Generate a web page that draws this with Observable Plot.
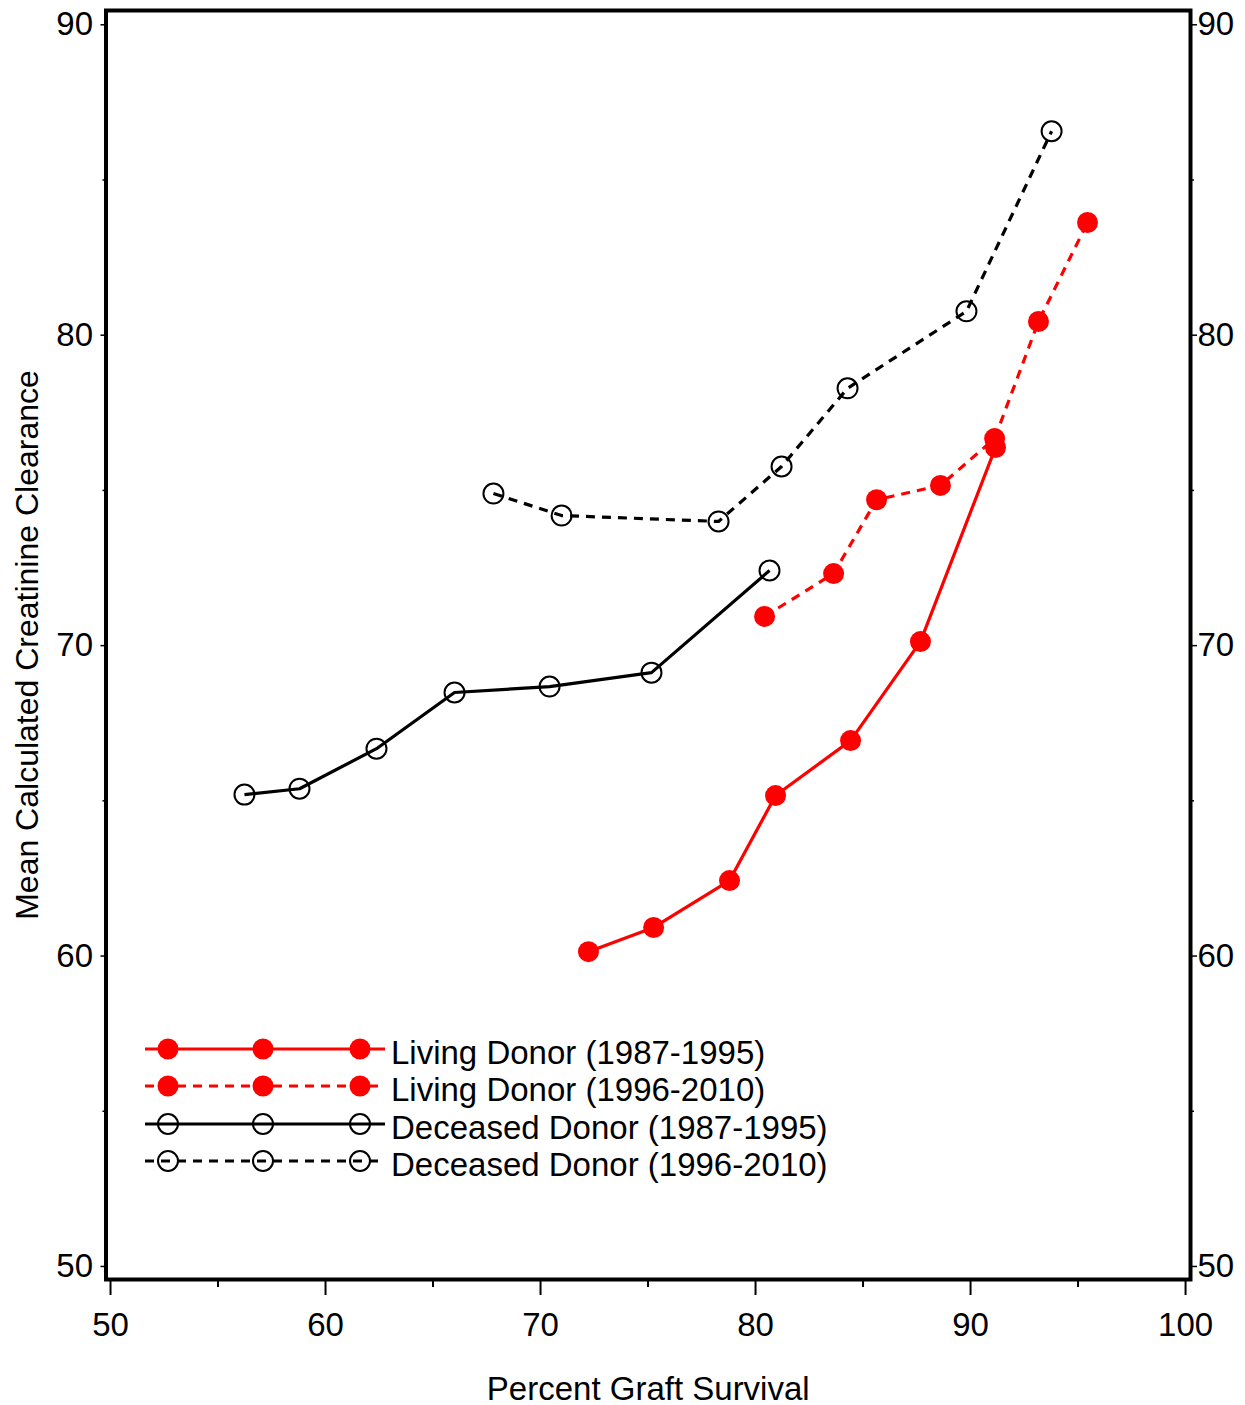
<!DOCTYPE html>
<html><head><meta charset="utf-8">
<script src="https://cdn.jsdelivr.net/npm/d3@7"></script>
<script src="https://cdn.jsdelivr.net/npm/@observablehq/plot@0.6"></script>
<style>
body{margin:0;background:#fff;}
#chart{position:relative;width:1245px;height:1405px;}
#chart svg{position:absolute;left:0;top:0;}
</style></head><body><div id="chart"></div>
<script>
// ---- data ----
const seriesNames = ["Living Donor (1987-1995)", "Living Donor (1996-2010)", "Deceased Donor (1987-1995)", "Deceased Donor (1996-2010)"];
const livingEarlyX = [72.23, 75.26, 78.79, 80.93, 84.42, 87.67, 91.16];
const livingEarlyY = [60.14, 60.92, 62.43, 65.17, 66.94, 70.13, 76.38];
const livingLateX = [80.42, 83.63, 85.63, 88.60, 91.12, 93.16, 95.44];
const livingLateY = [70.94, 72.32, 74.70, 75.16, 76.67, 80.44, 83.63];
const deceasedEarlyX = [56.23, 58.79, 62.37, 66.00, 70.42, 75.16, 80.65];
const deceasedEarlyY = [65.20, 65.39, 66.68, 68.49, 68.68, 69.13, 72.42];
const deceasedLateX = [67.81, 70.98, 78.28, 81.21, 84.28, 89.81, 93.77];
const deceasedLateY = [74.90, 74.19, 74.00, 75.77, 78.29, 80.77, 86.57];
const xMajor = [50, 60, 70, 80, 90, 100];
const xMinor = [55, 65, 75, 85, 95];
const yMajor = [50, 60, 70, 80, 90];
const yMinor = [55, 65, 75, 85];
const xTitle = "Percent Graft Survival";
const yTitle = "Mean Calculated Creatinine Clearance";

// ---- styles ----
const RED = "#ff0000", BLACK = "#000000";
const styles = [
  {xs: livingEarlyX, ys: livingEarlyY, color: RED, dash: null, filled: true},
  {xs: livingLateX, ys: livingLateY, color: RED, dash: "9,7", filled: true},
  {xs: deceasedEarlyX, ys: deceasedEarlyY, color: BLACK, dash: null, filled: false},
  {xs: deceasedLateX, ys: deceasedLateY, color: BLACK, dash: "9,7", filled: false}
];
const font = "'Liberation Sans', Arial, Helvetica, sans-serif";

const W = 1245, H = 1405;
const mL = 105.5, mR = 55, mT = 10, mB = 126;

const seriesMarks = [];
styles.forEach((s, i) => {
  const rows = s.xs.map((x, j) => ({x, y: s.ys[j], series: seriesNames[i]}));
  seriesMarks.push(Plot.line(rows, {x: "x", y: "y", stroke: s.color, strokeWidth: 3.2, strokeDasharray: s.dash, strokeLinecap: "butt"}));
  seriesMarks.push(s.filled
    ? Plot.dot(rows, {x: "x", y: "y", r: 10.5, fill: s.color, stroke: "none"})
    : Plot.dot(rows, {x: "x", y: "y", r: 10, fill: "none", stroke: s.color, strokeWidth: 2}));
});

const chart = Plot.plot({
  width: W, height: H,
  marginLeft: mL, marginRight: mR, marginTop: mT, marginBottom: mB,
  style: {fontFamily: font, fontSize: "33px", color: "#000", background: "#fff", overflow: "visible"},
  x: {domain: [49.79, 100.23]},
  y: {domain: [49.58, 90.46]},
  marks: [
    Plot.axisX({ticks: xMajor, tickSize: 16, tickPadding: 17, tickFormat: d => String(d), strokeWidth: 2, label: null, fontSize: 33}),
    Plot.axisX({ticks: xMinor, tickSize: 8, tickFormat: () => "", strokeWidth: 2, label: null}),
    Plot.axisY({anchor: "left", ticks: yMajor, tickSize: 5, tickPadding: 8, tickFormat: d => String(d), strokeWidth: 1.5, label: null, fontSize: 33}),
    Plot.axisY({anchor: "left", ticks: yMinor, tickSize: 3, tickFormat: () => "", strokeWidth: 1.5, label: null}),
    Plot.axisY({anchor: "right", ticks: yMajor, tickSize: 6, tickPadding: 1, tickFormat: d => String(d), strokeWidth: 1.5, label: null, fontSize: 33}),
    Plot.axisY({anchor: "right", ticks: yMinor, tickSize: 3, tickFormat: () => "", strokeWidth: 1.5, label: null}),
    ...seriesMarks,
    Plot.frame({stroke: "#000", strokeWidth: 4}),
    Plot.text([xTitle], {frameAnchor: "bottom", dy: 110, lineAnchor: "middle", textAnchor: "middle", fontSize: 33, fill: "#000"}),
    Plot.text([yTitle], {frameAnchor: "left", dx: -78, rotate: -90, lineAnchor: "middle", textAnchor: "middle", fontSize: 32, fill: "#000"})
  ]
});
document.getElementById("chart").appendChild(chart);

// ---- legend (overlay) ----
const lg = d3.select("#chart").append("svg")
  .attr("width", W).attr("height", H)
  .style("pointer-events", "none");
const rowY = [1049, 1086, 1124, 1161];
const markX = [168, 263, 360];
styles.forEach((s, i) => {
  const g = lg.append("g").attr("transform", `translate(0,${rowY[i]})`);
  g.append("line").attr("x1", 145).attr("x2", 385).attr("y1", 0).attr("y2", 0)
    .attr("stroke", s.color).attr("stroke-width", 3.2)
    .attr("stroke-dasharray", s.dash);
  markX.forEach(mx => {
    g.append("circle").attr("cx", mx).attr("cy", 0).attr("r", s.filled ? 10.5 : 10)
      .attr("fill", s.filled ? s.color : "none")
      .attr("stroke", s.filled ? "none" : s.color)
      .attr("stroke-width", 2);
  });
  g.append("text").attr("x", 391).attr("y", 3).attr("dy", "0.35em")
    .attr("font-family", font).attr("font-size", 33).attr("fill", "#000")
    .text(seriesNames[i]);
});
</script>
</body></html>
